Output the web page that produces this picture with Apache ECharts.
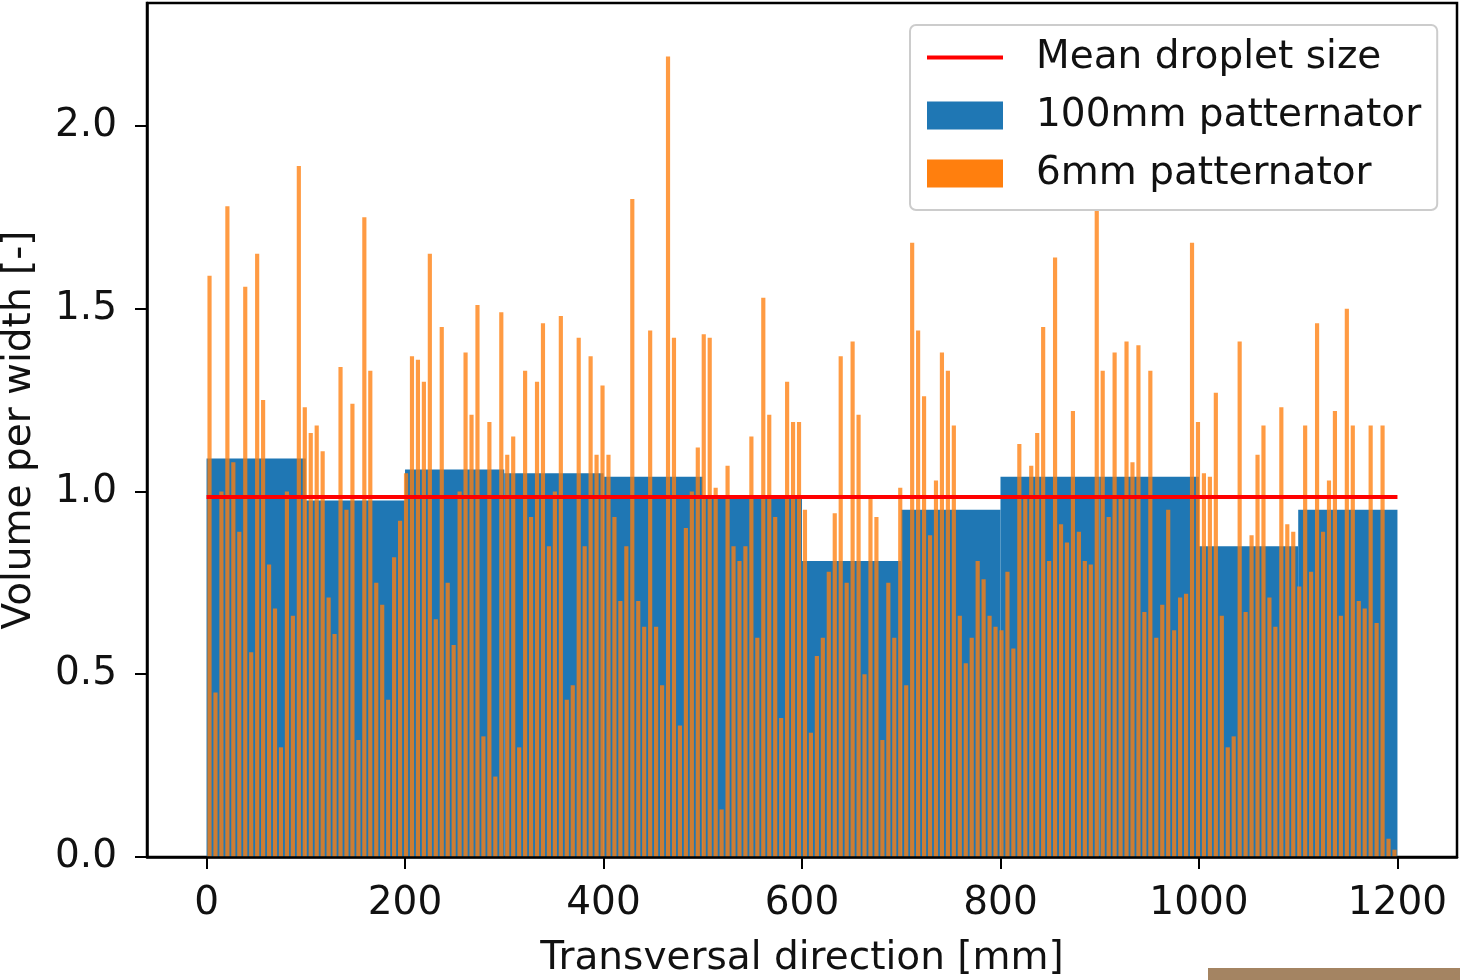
<!DOCTYPE html>
<html>
<head>
<meta charset="utf-8">
<script src="https://cdn.jsdelivr.net/npm/echarts@6/dist/echarts.min.js"></script>
<style>
  html, body { margin: 0; padding: 0; background: #fff; }
  #chart { width: 1460px; height: 980px; }
</style>
</head>
<body>
<div id="chart"></div>
<script>
// 100mm patternator: bar centres [mm] and volume per width
var coarseX = [50, 150, 250, 350, 450, 550, 650, 750, 850, 950, 1050, 1150];
var coarseY = [1.09, 0.975, 1.06, 1.05, 1.04, 0.99, 0.81, 0.95, 1.04, 1.04, 0.85, 0.95];

// 6mm patternator: 200 strips (strip i centred at 3 + 6*i mm)
var fineY = [
  1.59, 0.45, 1.00, 1.78, 1.08, 0.89, 1.56, 0.56, 1.65, 1.25,
  0.80, 0.68, 0.30, 1.00, 0.66, 1.89, 1.23, 1.16, 1.18, 1.11,
  0.71, 0.61, 1.34, 0.95, 1.24, 0.32, 1.75, 1.33, 0.75, 0.69,
  0.43, 0.82, 0.92, 1.05, 1.37, 1.36, 1.30, 1.65, 0.65, 1.45,
  0.75, 0.58, 1.00, 1.38, 1.21, 1.51, 0.33, 1.19, 0.22, 1.49,
  1.10, 1.15, 0.30, 1.33, 0.93, 1.30, 1.46, 0.85, 1.00, 1.48,
  0.43, 0.47, 1.42, 0.85, 1.37, 1.10, 1.29, 1.10, 0.93, 0.70,
  0.85, 1.80, 0.70, 0.63, 1.44, 0.63, 0.47, 2.19, 1.42, 0.36,
  0.90, 1.00, 1.12, 1.43, 1.42, 1.01, 0.13, 1.07, 0.85, 0.81,
  0.85, 1.15, 0.60, 1.53, 1.21, 0.93, 0.38, 1.30, 1.19, 1.19,
  0.95, 0.34, 0.55, 0.60, 0.78, 0.94, 1.37, 0.75, 1.41, 1.21,
  0.50, 0.98, 0.93, 0.32, 0.75, 0.60, 1.01, 0.47, 1.68, 1.44,
  1.26, 0.88, 1.03, 1.38, 1.33, 1.18, 0.66, 0.53, 0.60, 0.81,
  0.76, 0.66, 0.63, 0.62, 0.78, 0.57, 1.13, 0.99, 1.07, 1.16,
  1.45, 0.81, 1.64, 0.91, 0.86, 1.22, 0.89, 0.81, 0.80, 1.77,
  1.33, 0.93, 1.38, 0.99, 1.41, 1.08, 1.40, 0.67, 1.33, 0.60,
  0.69, 0.95, 0.62, 0.71, 0.72, 1.68, 1.19, 1.05, 1.04, 1.27,
  0.66, 0.30, 0.33, 1.41, 0.67, 0.88, 1.10, 1.18, 0.71, 0.63,
  1.23, 0.91, 0.89, 0.74, 1.18, 0.78, 1.46, 0.89, 1.03, 1.22,
  0.66, 1.50, 1.18, 0.70, 0.68, 1.18, 0.64, 1.18, 0.05, 0.02
];
var fineX = fineY.map(function (v, i) { return 3 + 6 * i; });

// mean droplet size line
var meanX = [0, 1200];
var meanY = [0.985, 0.985];

var xTicks = [0, 200, 400, 600, 800, 1000, 1200];
var yTicks = [0, 0.5, 1.0, 1.5, 2.0];

var FONT = 'DejaVu Sans';
var BLUE = '#1f77b4';
var ORANGE = '#ff7f0e';

function barRenderer(width, color, opacity) {
  return function (params, api) {
    var x = api.value(0);
    var v = api.value(1);
    var top = api.coord([x - width / 2, v]);
    var base = api.coord([x + width / 2, 0]);
    return {
      type: 'rect',
      shape: { x: top[0], y: top[1], width: base[0] - top[0], height: base[1] - top[1] },
      style: { fill: color, opacity: opacity }
    };
  };
}

var chart = echarts.init(document.getElementById('chart'));
var option = {
  animation: false,
  backgroundColor: '#fff',
  textStyle: { fontFamily: FONT },
  grid: {
    left: 147, right: 3, top: 3, bottom: 123,
    outerBoundsMode: 'none',
    containLabel: false,
    show: true, borderColor: '#000', borderWidth: 2.5, backgroundColor: 'transparent'
  },
  legend: {
    left: 910, top: 25,
    orient: 'vertical',
    padding: [13, 16, 17, 17],
    itemWidth: 76, itemHeight: 28, itemGap: 19,
    backgroundColor: 'rgba(255,255,255,0.8)',
    borderColor: '#cccccc', borderWidth: 2, borderRadius: 6,
    textStyle: { fontFamily: FONT, fontSize: 39, color: '#111', padding: [0, 0, 0, 28] },
    data: [
      { name: 'Mean droplet size', icon: 'path://M0,0 L76,0 L76,4 L0,4 Z', itemStyle: { color: '#ff0000' } },
      { name: '100mm patternator', icon: 'rect', itemStyle: { color: BLUE } },
      { name: '6mm patternator', icon: 'rect', itemStyle: { color: ORANGE, opacity: 1 } }
    ]
  },
  xAxis: {
    type: 'value',
    min: -60, max: 1260,
    z: 10,
    name: 'Transversal direction [mm]',
    nameLocation: 'middle',
    nameGap: 82,
    nameTextStyle: { fontFamily: FONT, fontSize: 39, color: '#111' },
    axisLine: { show: true, onZero: false, lineStyle: { color: '#000', width: 2.5 } },
    axisTick: { show: true, length: 12, lineStyle: { color: '#000', width: 2 }, customValues: xTicks },
    axisLabel: {
      fontFamily: FONT, fontSize: 39, color: '#111', margin: 27, customValues: xTicks,
      formatter: function (v) { return String(v); }
    },
    splitLine: { show: false }
  },
  yAxis: {
    type: 'value',
    min: 0, max: 2.336,
    z: 10,
    name: 'Volume per width [-]',
    nameLocation: 'middle',
    nameGap: 108,
    nameRotate: 90,
    nameTextStyle: { fontFamily: FONT, fontSize: 39, color: '#111' },
    axisLine: { show: true, onZero: false, lineStyle: { color: '#000', width: 2.5 } },
    axisTick: { show: true, length: 12, lineStyle: { color: '#000', width: 2 }, customValues: yTicks },
    axisLabel: {
      fontFamily: FONT, fontSize: 39, color: '#111', margin: 30, customValues: yTicks,
      formatter: function (v) { return v.toFixed(1); }
    },
    splitLine: { show: false }
  },
  series: [
    {
      name: '100mm patternator',
      type: 'custom',
      itemStyle: { color: BLUE },
      encode: { x: 0, y: 1 },
      clip: true,
      renderItem: barRenderer(100, BLUE, 1),
      data: coarseX.map(function (x, i) { return [x, coarseY[i]]; }),
      z: 2
    },
    {
      name: '6mm patternator',
      type: 'custom',
      itemStyle: { color: ORANGE },
      encode: { x: 0, y: 1 },
      clip: true,
      renderItem: barRenderer(4.2, ORANGE, 0.78),
      data: fineX.map(function (x, i) { return [x, fineY[i]]; }),
      z: 3
    },
    {
      name: 'Mean droplet size',
      type: 'line',
      symbol: 'none',
      lineStyle: { color: '#ff0000', width: 4 },
      itemStyle: { color: '#ff0000' },
      data: meanX.map(function (x, i) { return [x, meanY[i]]; }),
      z: 4
    }
  ],
  graphic: [
    { type: 'rect', left: 1208, top: 968, shape: { width: 252, height: 12 }, style: { fill: '#a48462' } }
  ]
};
chart.setOption(option);
</script>
</body>
</html>
